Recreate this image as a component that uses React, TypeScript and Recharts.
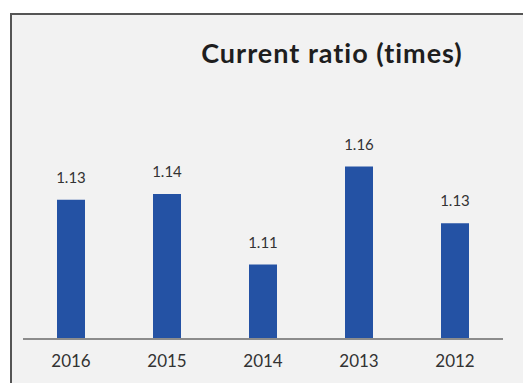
import React, { useEffect } from 'react';
import { BarChart, Bar, XAxis, YAxis, LabelList } from 'recharts';

const YEARS = ['2016', '2015', '2014', '2013', '2012'];
const RATIOS = [1.143, 1.146, 1.11, 1.16, 1.131];
const RATIO_LABELS = ['1.13', '1.14', '1.11', '1.16', '1.13'];

const data = YEARS.map((year, i) => ({ year, ratio: RATIOS[i], label: RATIO_LABELS[i] }));

const FONT = 'Lato, "Open Sans", sans-serif';

const App: React.FC = () => {
  useEffect(() => {
    document.documentElement.style.overflow = 'hidden';
    document.body.style.overflow = 'hidden';
  }, []);

  return (
    <div style={{ position: 'fixed', left: 0, top: 0, right: 0, bottom: 0, background: '#fff', overflow: 'hidden' }}>
      <div
        style={{
          position: 'absolute',
          left: 10,
          top: 13,
          right: -10,
          bottom: -10,
          background: '#f2f2f2',
          borderLeft: '2px solid #555',
          borderTop: '2px solid #555',
        }}
      />
      <div
        style={{
          position: 'absolute',
          left: 190,
          top: 37,
          width: 284,
          textAlign: 'center',
          fontFamily: FONT,
          fontWeight: 700,
          fontSize: 27,
          letterSpacing: 1,
          color: '#1e1e1e',
          lineHeight: '32px',
        }}
      >
        Current ratio (times)
      </div>
      <div style={{ position: 'absolute', left: 0, top: 0 }}>
        <BarChart width={523} height={383} data={data} margin={{ top: 143, right: 20, bottom: 0, left: 23 }}>
          <XAxis
            dataKey="year"
            axisLine={{ stroke: '#8c8c8c', strokeWidth: 2 }}
            tickLine={false}
            tickMargin={10}
            tick={{ fill: '#333', fontSize: 17, fontFamily: FONT }}
            height={44}
          />
          <YAxis hide domain={[1.072, 1.172]} allowDataOverflow />
          <Bar dataKey="ratio" fill="#2452a4" barSize={28} isAnimationActive={false}>
            <LabelList dataKey="label" position="top" offset={17} fill="#333" fontSize={15} fontFamily={FONT} />
          </Bar>
        </BarChart>
      </div>
    </div>
  );
};

export default App;
